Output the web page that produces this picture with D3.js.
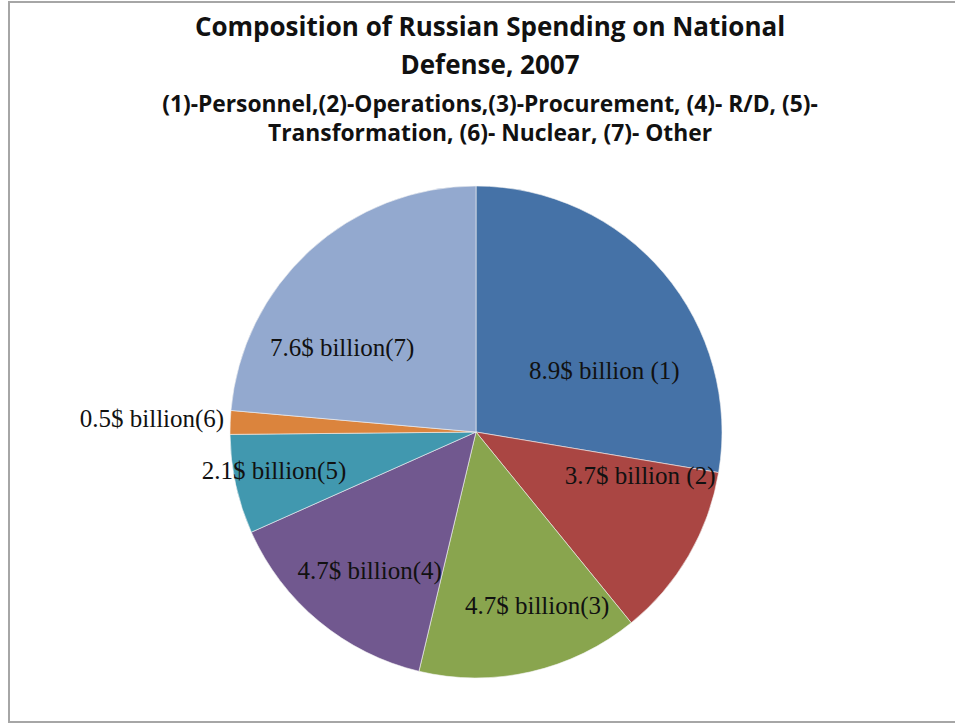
<!doctype html>
<meta charset="utf-8">
<title>Russian Defense Spending 2007</title>
<style>
  body { margin: 0; background: #fff; }
  svg { display: block; }
</style>
<svg id="visual" width="955" height="724"></svg>
<script src="https://cdn.jsdelivr.net/npm/d3@7"></script>
<script>

// (data)
var categories = ["1", "2", "3", "4", "5", "6", "7"];
var values = [8.9, 3.7, 4.7, 4.7, 2.1, 0.5, 7.6];
var labels = [
	"8.9$ billion (1)",
	"3.7$ billion (2)",
	"4.7$ billion(3)",
	"4.7$ billion(4)",
	"2.1$ billion(5)",
	"0.5$ billion(6)",
	"7.6$ billion(7)"
];
var titleLines = ["Composition of Russian Spending on National", "Defense, 2007"];
var subtitleLines = [
	"(1)-Personnel,(2)-Operations,(3)-Procurement, (4)- R/D, (5)-",
	"Transformation, (6)- Nuclear, (7)- Other"
];

// (layout)
var W = 955, H = 724;
var cx = 476, cy = 432, R = 246;
var colors = ["#4572A7", "#AA4643", "#89A54E", "#71588F", "#4198AF", "#DB843D", "#93A9CF"];
// label nudges from the arc centroid, imitating excel's best fit placement
var nudge = [[-6, 52], [12, -45], [22, 2], [6, 3], [-30, 1], [0, 0], [-15, 45]];

var svg = d3.select("#visual");

// (frame)
svg.append("rect")
	.attr("x", 9).attr("y", 2)
	.attr("width", W + 10).attr("height", 720)
	.attr("fill", "#fff")
	.attr("stroke", "#a6a6a6")
	.attr("stroke-width", 2);

// (title)
svg.append("g").selectAll("text")
	.data(titleLines)
	.enter().append("text")
	.attr("x", 490)
	.attr("y", function(d, i) { return 36 + i * 38; })
	.attr("text-anchor", "middle")
	.attr("font-family", "'Open Sans', Lato, sans-serif")
	.attr("font-weight", "bold")
	.attr("font-size", "26px")
	.attr("fill", "#111")
	.text(function(d) { return d; });

svg.append("g").selectAll("text")
	.data(subtitleLines)
	.enter().append("text")
	.attr("x", 490)
	.attr("y", function(d, i) { return 112 + i * 29; })
	.attr("text-anchor", "middle")
	.attr("font-family", "'Open Sans', Lato, sans-serif")
	.attr("font-weight", "bold")
	.attr("font-size", "22.8px")
	.attr("fill", "#111")
	.text(function(d) { return d; });

// (pie)
var pie = d3.pie().sort(null).value(function(d) { return d; });
var arcs = pie(values);
var arc = d3.arc().innerRadius(0).outerRadius(R);
var labelArc = d3.arc().innerRadius(176).outerRadius(176);

var g = svg.append("g").attr("transform", "translate(" + cx + "," + cy + ")");

g.selectAll("path")
	.data(arcs)
	.enter().append("path")
	.attr("d", arc)
	.attr("fill", function(d, i) { return colors[i]; })
	.attr("stroke", "#f4f4f4")
	.attr("stroke-width", 0.6);

// (labels)
g.selectAll("text")
	.data(arcs)
	.enter().append("text")
	.each(function(d, i) {
		var el = d3.select(this);
		var small = (d.endAngle - d.startAngle) < 0.2;
		if (small) {
			var a = (d.startAngle + d.endAngle) / 2;
			el.attr("x", Math.sin(a) * (R + 6))
				.attr("y", -Math.cos(a) * (R + 6) - 4)
				.attr("text-anchor", Math.sin(a) < 0 ? "end" : "start");
		} else {
			var c = labelArc.centroid(d);
			el.attr("x", c[0] + nudge[i][0])
				.attr("y", c[1] + nudge[i][1])
				.attr("text-anchor", "middle");
		}
	})
	.attr("dy", "0.35em")
	.attr("font-family", "'Liberation Serif', 'Times New Roman', serif")
	.attr("font-size", "25px")
	.attr("fill", "#111")
	.text(function(d, i) { return labels[i]; });

</script>
